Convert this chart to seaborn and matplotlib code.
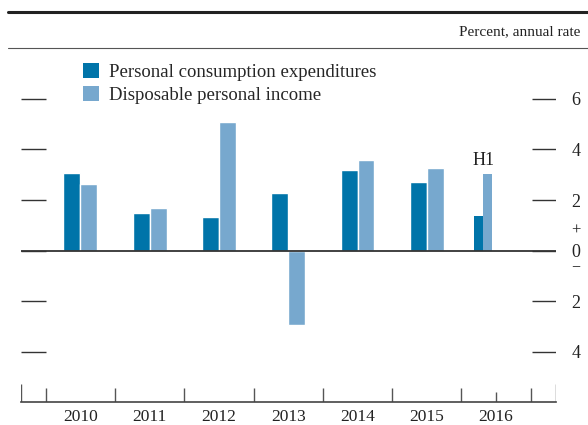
import matplotlib
matplotlib.use("Agg")
import matplotlib.pyplot as plt
from matplotlib.lines import Line2D
from matplotlib.patches import Patch
import seaborn as sns
import pandas as pd

# values (percent, annual rate)
years = ["2010", "2011", "2012", "2013", "2014", "2015", "2016"]
pce = [3.05, 1.48, 1.32, 2.27, 3.18, 2.70, 1.37]
dpi = [2.63, 1.67, 5.08, -2.93, 3.58, 3.26, 3.03]
series_names = ["Personal consumption expenditures", "Disposable personal income"]
colors = ["#0074A9", "#77A8CE"]

sns.set_style("white")
plt.rcParams["font.family"] = ["Liberation Serif", "DejaVu Serif"]

W, H = 588, 425
fig = plt.figure(figsize=(W / 100, H / 100), dpi=100)
ax = fig.add_axes([20.7 / W, 22.7 / H, 535 / W, 354 / H])

# full years go through seaborn, 2016 (H1 only) drawn as half-width bars
full = pd.DataFrame({
    "Year": years[:-1] * 2,
    "Series": [series_names[0]] * 6 + [series_names[1]] * 6,
    "Value": pce[:-1] + dpi[:-1],
})
sns.barplot(data=full, x="Year", y="Value", hue="Series", order=years[:-1],
            hue_order=series_names, palette=colors, width=0.49,
            saturation=1, legend=False, ax=ax)

h1_x = 5.8125
ax.bar(h1_x - 0.0625, pce[-1], width=0.125, color=colors[0], linewidth=0)
ax.bar(h1_x + 0.0625, dpi[-1], width=0.125, color=colors[1], linewidth=0)
ax.text(h1_x, 3.55, "H1", ha="center", va="center", fontsize=13, color="#222222")

ax.set_xlim(-0.86, 6.86)
ax.set_ylim(-6, 8)

# zero line and the short horizontal gridline stubs on both sides
ax.axhline(0, color="#333333", lw=1.3, zorder=3)
for y in [-4, -2, 0, 2, 4, 6]:
    ax.hlines(y, -0.86, -0.5, color="#333333", lw=1.0)
    ax.hlines(y, 6.52, 6.86, color="#333333", lw=1.0)

# vertical tick marks on the bottom axis
for x in [i - 0.5 for i in range(8)]:
    ax.vlines(x, -6, -5.44, color="#555555", lw=1.0)
ax.vlines([-0.86, 6.86], -6, -5.28, color="#555555", lw=1.0)
ax.vlines(6.0, -6, -5.58, color="#555555", lw=1.0)

ax.set_xticks(range(7))
ax.set_xticklabels(years, fontsize=12.5, color="#222222")
ax.yaxis.tick_right()
ax.set_yticks([-4, -2, 0, 2, 4, 6])
ax.set_yticklabels(["4", "2", "0", "2", "4", "6"], fontsize=13, color="#222222")
ax.tick_params(axis="x", length=0, pad=4.5)
ax.tick_params(axis="y", length=0, pad=11.5)
ax.set_xlabel("")
ax.set_ylabel("")
ax.text(1.038, 0.8, "+", transform=ax.get_yaxis_transform(), ha="center",
        va="center", fontsize=12, color="#222222")
ax.text(1.038, -0.68, "\u2212", transform=ax.get_yaxis_transform(), ha="center",
        va="center", fontsize=11.5, color="#222222")

sns.despine(ax=ax, left=True, right=True, top=True)
ax.spines["bottom"].set_color("#444444")
ax.spines["bottom"].set_linewidth(1.2)

# legend
handles = [Patch(facecolor=c, edgecolor="none") for c in colors]
ax.legend(handles, series_names, loc="upper left", frameon=False,
          bbox_to_anchor=(82.7 / W, 1 - 63 / H), bbox_transform=fig.transFigure,
          fontsize=13.5, handlelength=0.85, handleheight=0.85,
          handletextpad=0.55, labelspacing=0.25, borderpad=0, borderaxespad=0)

# header rules and unit label
fig.add_artist(Line2D([8 / W, 1], [1 - 11.7 / H] * 2, color="#222222", lw=2.2))
fig.add_artist(Line2D([8 / W, 1], [1 - 48.3 / H] * 2, color="#555555", lw=0.8))
fig.text(580 / W, 1 - 31.7 / H, "Percent, annual rate", ha="right", va="center",
         fontsize=11, color="#222222")

fig.savefig("out.png", dpi=100)
